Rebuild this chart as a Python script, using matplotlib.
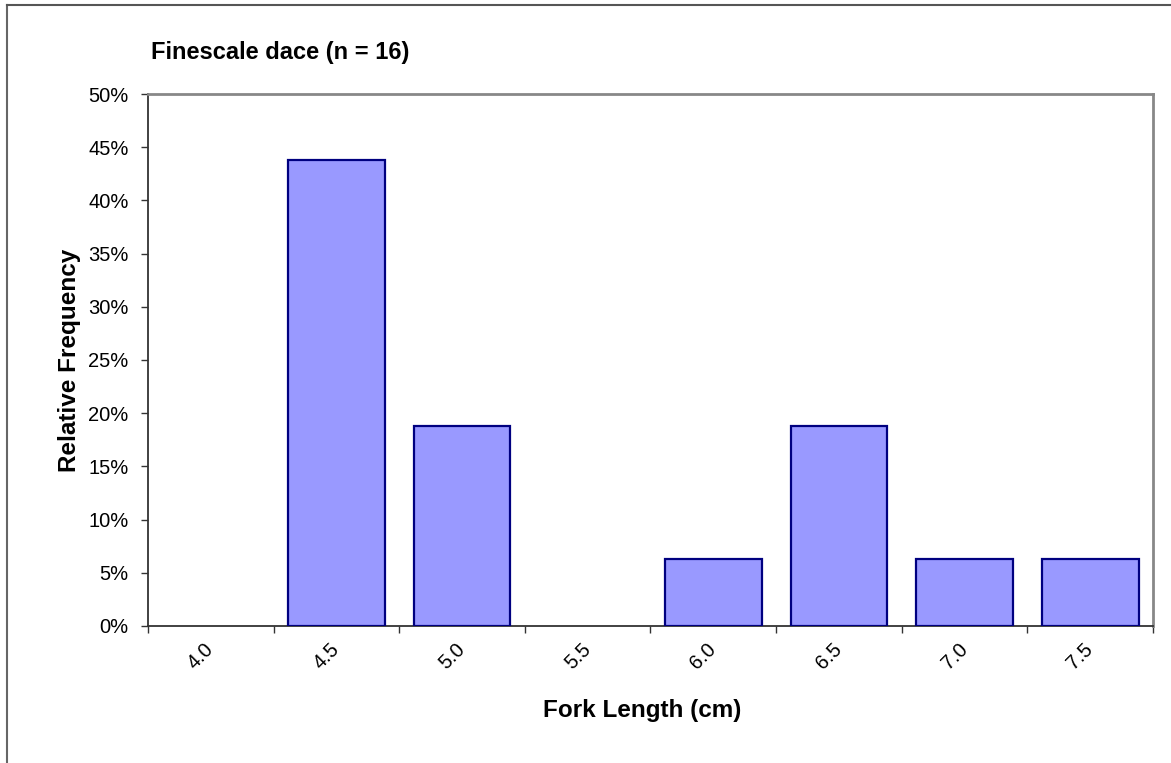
import numpy as np
import matplotlib.pyplot as plt
from matplotlib.lines import Line2D
from matplotlib.ticker import FuncFormatter, MultipleLocator

plt.rcParams['font.family'] = ['Liberation Sans', 'DejaVu Sans']

lengths = ['4.0', '4.5', '5.0', '5.5', '6.0', '6.5', '7.0', '7.5']
counts = [0, 7, 3, 0, 1, 3, 1, 1]
n = 16
freq = np.array(counts) / n

fig = plt.figure(figsize=(11.71, 7.63), dpi=100)
ax = fig.add_axes([0.1264, 0.1796, 0.8582, 0.6972])

x = np.arange(len(lengths))
edges = ['#000080' if f > 0 else 'none' for f in freq]
ax.bar(x, freq, width=0.77, color='#9999ff', edgecolor=edges, linewidth=1.6, zorder=3)

ax.set_xlim(-0.5, len(lengths) - 0.5)
ax.set_ylim(0, 0.5)
ax.yaxis.set_major_locator(MultipleLocator(0.05))
ax.yaxis.set_major_formatter(FuncFormatter(lambda v, p: '%d%%' % round(v * 100)))

# ticks on category boundaries, labels at centres
ax.set_xticks(np.arange(len(lengths) + 1) - 0.5)
ax.set_xticklabels([])
ax.set_xticks(x, minor=True)
ax.set_xticklabels(lengths, minor=True, rotation=45, ha='right', va='center',
                   rotation_mode='anchor', fontsize=14.5)
ax.tick_params(axis='x', which='minor', length=0, pad=15)
ax.tick_params(axis='x', which='major', length=5, width=1, direction='out', color='#333333')
ax.tick_params(axis='y', length=5, width=1, direction='out', labelsize=14.5, pad=9, color='#333333')

for s in ['top', 'right']:
    ax.spines[s].set_color('#888888')
    ax.spines[s].set_linewidth(2)
for s in ['left', 'bottom']:
    ax.spines[s].set_color('#333333')
    ax.spines[s].set_linewidth(1.3)

ax.set_xlabel('Fork Length (cm)', fontsize=17.5, fontweight='bold')
ax.xaxis.set_label_coords((642 - 148) / 1005, -(699 - 626) / 532)
ax.set_ylabel('Relative Frequency', fontsize=17.5, fontweight='bold')
ax.yaxis.set_label_coords(-(148 - 81) / 1005, 0.5)
fig.text(151 / 1171, 1 - 59 / 763, 'Finescale dace (n = %d)' % n, fontsize=17,
         fontweight='bold', ha='left', va='baseline')

# outer chart border (left and top only visible)
fig.add_artist(Line2D([6.5 / 1171, 6.5 / 1171], [0, 1 - 4.5 / 763], transform=fig.transFigure,
                      color='#666666', linewidth=1.5))
fig.add_artist(Line2D([6.5 / 1171, 1], [1 - 4.5 / 763, 1 - 4.5 / 763], transform=fig.transFigure,
                      color='#555555', linewidth=1.5))

fig.savefig('out.png', dpi=100)
